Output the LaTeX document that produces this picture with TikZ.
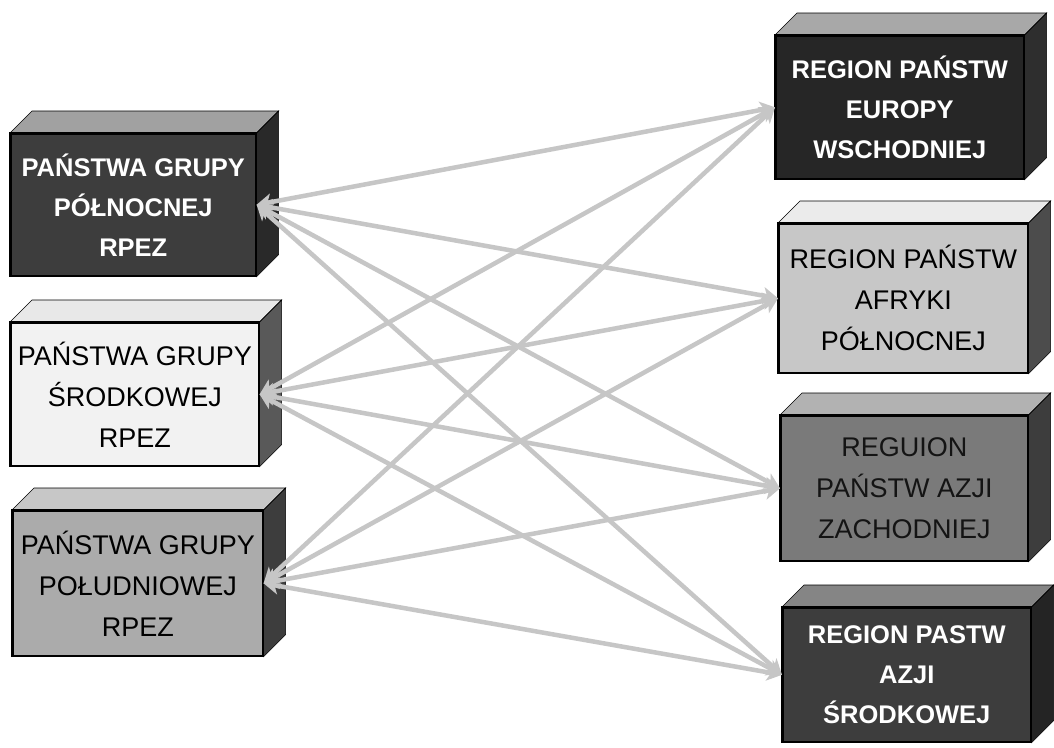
\documentclass[tikz,border=0pt]{standalone}
\usepackage{fontspec}
\setmainfont{Liberation Sans}
\usetikzlibrary{arrows.meta}
\definecolor{arrowgray}{HTML}{C6C6C6}
\tikzset{
  front/.style={draw=black, line width=1.6pt, anchor=north west, inner sep=0pt, align=center},
  whitetxt/.style={text=white, font=\fontsize{25.5pt}{40pt}\selectfont\bfseries},
  blacktxt/.style={text=black, font=\fontsize{27pt}{41pt}\selectfont},
  topface/.style={draw=black, line width=0.6pt},
  sideface/.style={draw=black, line width=0.6pt},
  link/.style={draw=arrowgray, line width=4.5pt,
    {Stealth[length=15pt,width=17pt,inset=4pt]}-{Stealth[length=15pt,width=17pt,inset=4pt]}},
}
% #1 name, #2 x, #3 y, #4 w, #5 h, #6 front, #7 top, #8 side, #9 style
\newcommand\mycuboid[9]{%
  \node[front, fill=#6, minimum width=#4pt, minimum height=#5pt, #9] (#1) at (#2,#3) {\csname txt#1\endcsname};
  \filldraw[topface, fill=#7] (#1.north west) -- ++(22pt,22pt) -- ([shift={(22pt,22pt)}]#1.north east) -- (#1.north east) -- cycle;
  \filldraw[sideface, fill=#8] (#1.north east) -- ++(22pt,22pt) -- ([shift={(22pt,22pt)}]#1.south east) -- (#1.south east) -- cycle;
  \draw[black, line width=1.6pt] (#1.north west) rectangle (#1.south east);
}
\expandafter\def\csname txtLa\endcsname{PAŃSTWA GRUPY\\PÓŁNOCNEJ\\RPEZ}
\expandafter\def\csname txtLb\endcsname{PAŃSTWA GRUPY\\ŚRODKOWEJ\\RPEZ}
\expandafter\def\csname txtLc\endcsname{PAŃSTWA GRUPY\\POŁUDNIOWEJ\\RPEZ}
\expandafter\def\csname txtRa\endcsname{REGION PAŃSTW\\EUROPY\\WSCHODNIEJ}
\expandafter\def\csname txtRb\endcsname{REGION PAŃSTW\\AFRYKI\\PÓŁNOCNEJ}
\expandafter\def\csname txtRc\endcsname{REGUION\\PAŃSTW AZJI\\ZACHODNIEJ}
\expandafter\def\csname txtRd\endcsname{REGION PASTW\\AZJI\\ŚRODKOWEJ}
\begin{document}
\begin{tikzpicture}[x=1pt,y=-1pt]
\useasboundingbox[fill=white] (0,0) rectangle (1054,747);
\mycuboid{La}{10}{133}{245}{142}{black!76}{black!37}{black!84}{whitetxt}
\mycuboid{Lb}{10}{322}{248}{143}{black!5}{black!9}{black!65}{blacktxt}
\mycuboid{Lc}{12}{510}{250}{145}{black!33}{black!22}{black!76}{blacktxt}
\mycuboid{Ra}{775}{35}{248}{143}{black!85}{black!34}{black!82}{whitetxt}
\mycuboid{Rb}{778}{223}{249}{149}{black!22}{black!8}{black!70}{blacktxt}
\mycuboid{Rc}{780}{415}{247}{145}{black!52}{black!30}{black!76}{blacktxt, text=black!92}
\mycuboid{Rd}{782}{607}{248}{134}{black!76}{black!48}{black!86}{whitetxt}
\foreach \l in {La,Lb,Lc}{
  \foreach \r in {Ra,Rb,Rc,Rd}{
    \draw[link] (\l.east) -- (\r.west);
  }
}
\end{tikzpicture}
\end{document}
